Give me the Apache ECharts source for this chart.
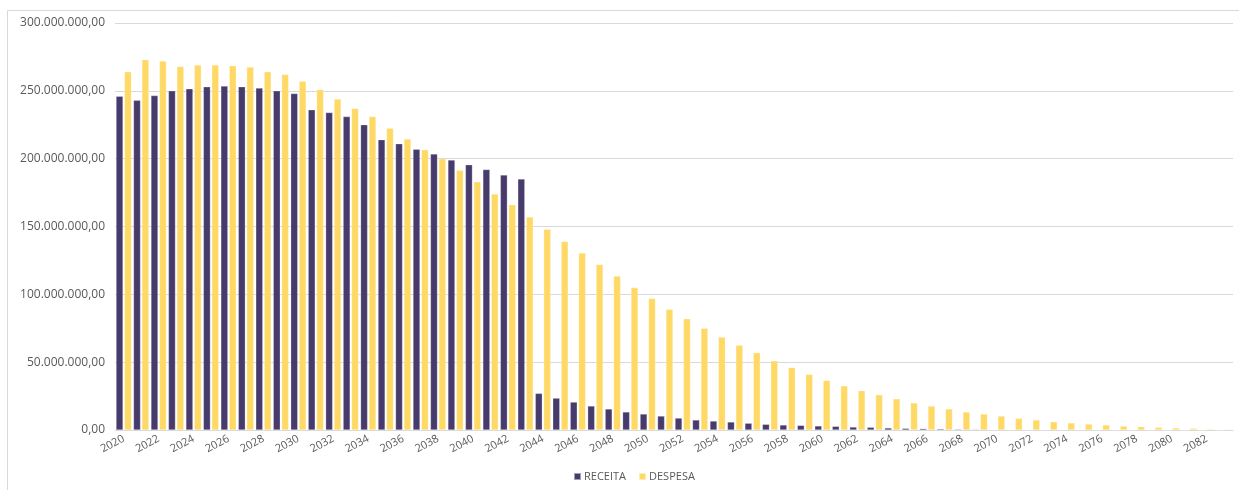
<!DOCTYPE html>
<html>
<head>
<meta charset="utf-8">
<script src="https://cdn.jsdelivr.net/npm/echarts@6/dist/echarts.min.js"></script>
<style>html,body{margin:0;padding:0;background:#fff}#c{width:1239px;height:490px}</style>
</head>
<body>
<div id="c"></div>
<script>
// Years 2020..2083
const years = ["2020","2021","2022","2023","2024","2025","2026","2027","2028","2029",
"2030","2031","2032","2033","2034","2035","2036","2037","2038","2039",
"2040","2041","2042","2043","2044","2045","2046","2047","2048","2049",
"2050","2051","2052","2053","2054","2055","2056","2057","2058","2059",
"2060","2061","2062","2063","2064","2065","2066","2067","2068","2069",
"2070","2071","2072","2073","2074","2075","2076","2077","2078","2079",
"2080","2081","2082","2083"];
// values in millions
const receita = [246,243,246.5,250,251.5,253,253.5,253,252,250,
248,236,234,231,225,214,211,207,203.5,199,
195.5,192,188,185,27,23.5,20.6,17.7,15.5,13.3,
11.8,10.3,8.8,7.4,6.6,5.9,5.0,4.2,3.7,3.4,
3.0,2.7,2.2,2.0,1.5,1.2,1.0,0.8,0.6,0.5,
0.35,0.3,0.25,0.2,0.15,0.12,0.1,0.08,0.06,0.05,
0.04,0.03,0.02,0.02];
const despesa = [264,273,272,268,269,269,268.5,267.5,264,262,
257,251,244,237,231,222.5,214.5,206.5,200,191.5,
183,174,166,157,148,139,130.5,122,113.5,105,
97,89,82,75,68.5,62.5,57,51,46,41,
36.5,32.5,29,26,23,20,17.7,15.5,13.3,11.8,
10.3,8.6,7.4,6.1,5.2,4.4,3.7,2.9,2.4,2.0,
1.5,1.2,0.7,0.5];
const yTicks = [0,50,100,150,200,250,300];

function fmt(vm){
  const v = Math.round(vm*1e6);
  const s = v.toString().replace(/\B(?=(\d{3})+(?!\d))/g, ".");
  return s + ",00";
}

const chart = echarts.init(document.getElementById('c'), null, {renderer:'canvas'});
chart.setOption({
  animation:false,
  backgroundColor:'#fff',
  textStyle:{fontFamily:'"Open Sans", sans-serif'},
  graphic:[{type:'rect',shape:{x:7.5,y:10.5,width:1260,height:500},style:{fill:'none',stroke:'#d9d9d9',lineWidth:1},silent:true}],
  grid:{left:115,right:6,top:23,bottom:60,containLabel:false},
  legend:{
    bottom:3,left:568,
    itemWidth:7,itemHeight:7,itemGap:12,
    icon:'rect',
    textStyle:{color:'#595959',fontSize:11,padding:[0,0,0,-2],fontFamily:'"Open Sans", sans-serif'},
    data:['RECEITA','DESPESA']
  },
  xAxis:{
    type:'category',data:years,
    axisLine:{lineStyle:{color:'#d9d9d9'}},
    axisTick:{show:false},
    axisLabel:{interval:1,rotate:28,color:'#595959',fontSize:11,margin:8,
      fontFamily:'"Open Sans", sans-serif'}
  },
  yAxis:{
    type:'value',min:0,max:300,interval:50,
    axisLine:{show:false},axisTick:{show:false},
    splitLine:{lineStyle:{color:'#d9d9d9'}},
    axisLabel:{color:'#595959',fontSize:12,margin:10,formatter:function(v){return v===0?'0,00':fmt(v);},
      fontFamily:'"Open Sans", sans-serif'}
  },
  series:[
    {name:'RECEITA',type:'bar',data:receita,barWidth:7,barGap:'20%',
     itemStyle:{color:'#463b6c',borderColor:'rgba(255,255,255,0.5)',borderWidth:0.5}},
    {name:'DESPESA',type:'bar',data:despesa,barWidth:7,
     itemStyle:{color:'#ffd966',borderColor:'rgba(255,255,255,0.5)',borderWidth:0.5}}
  ]
});
</script>
</body>
</html>
